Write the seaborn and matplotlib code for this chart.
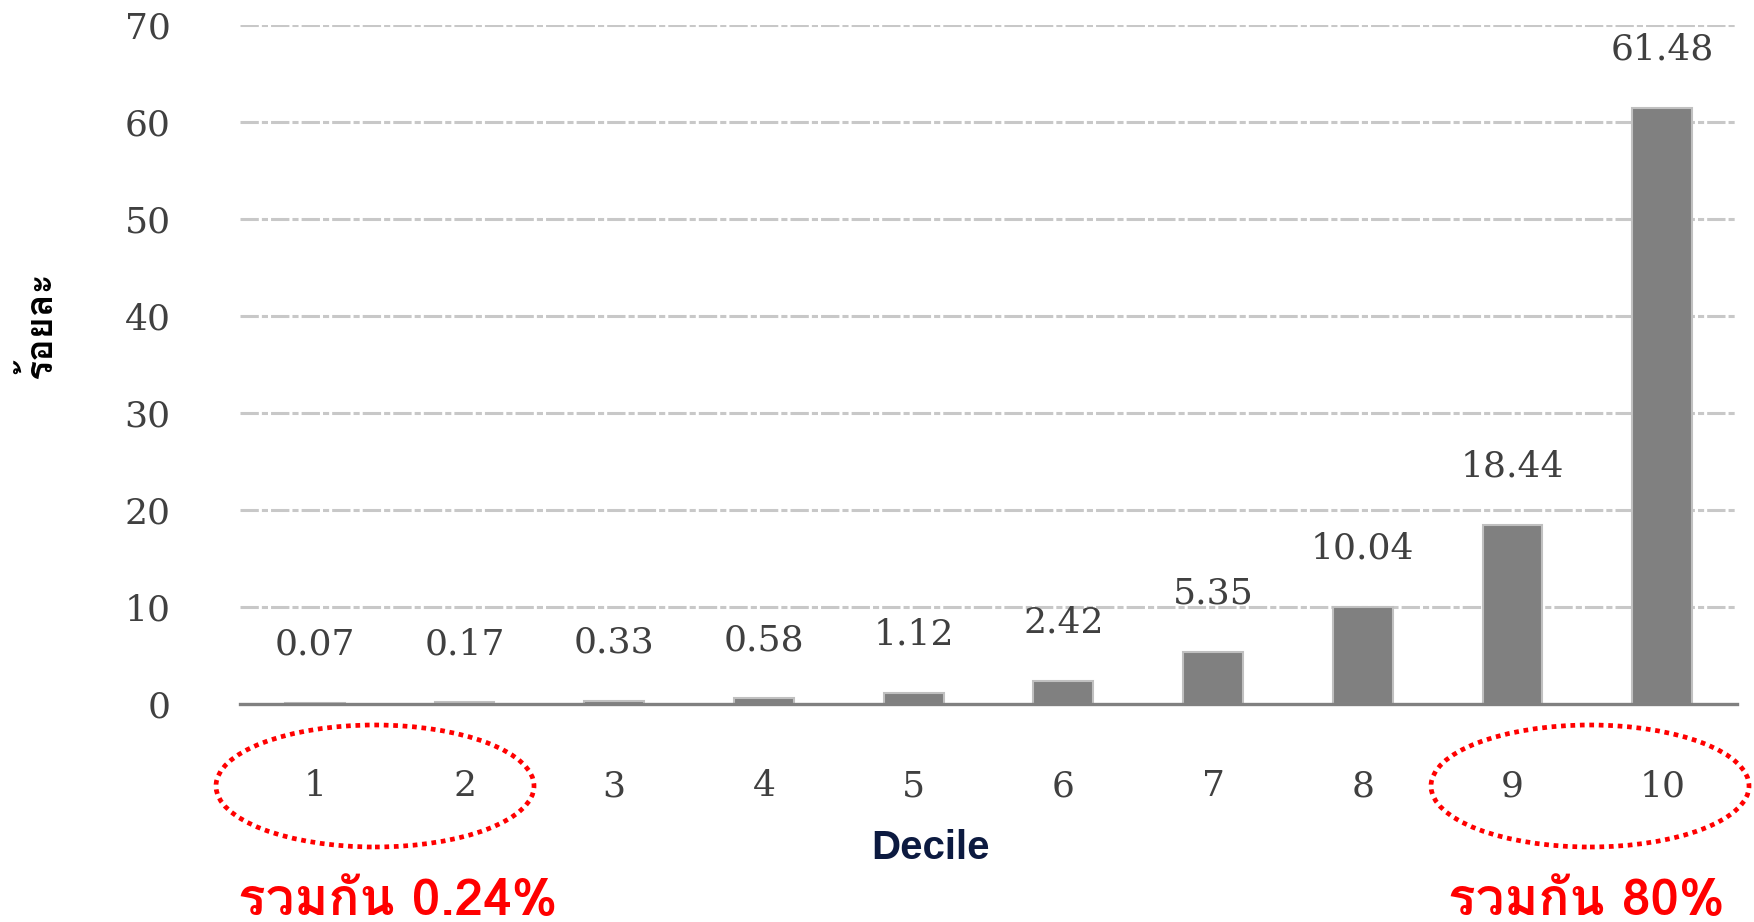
import numpy as np
import matplotlib
matplotlib.use('Agg')
import matplotlib.pyplot as plt
import seaborn as sns
from matplotlib.patches import Ellipse

# data
deciles = ['1', '2', '3', '4', '5', '6', '7', '8', '9', '10']
shares = [0.07, 0.17, 0.33, 0.58, 1.12, 2.42, 5.35, 10.04, 18.44, 61.48]
value_labels = ['0.07', '0.17', '0.33', '0.58', '1.12', '2.42', '5.35', '10.04', '18.44', '61.48']
y_ticks = [0, 10, 20, 30, 40, 50, 60, 70]
y_label = 'ร้อยละ'
x_label = 'Decile'
note_low = 'รวมกัน 0.24%'
note_high = 'รวมกัน 80%'

thai_family = ['Loma', 'DejaVu Sans']
num_family = ['DejaVu Serif', 'Liberation Serif']

sns.set_style('white')
plt.rcParams['font.family'] = num_family

W, H = 1754, 922
fig = plt.figure(figsize=(W / 100, H / 100), dpi=100)
# axes placed in pixel terms of the reference
ax = fig.add_axes([240 / W, 1 - 704 / H, (1737 - 240) / W, (704 - 25) / H])

sns.barplot(x=deciles, y=shares, color='#808080', saturation=1, width=0.4,
            edgecolor='#c0c0c0', linewidth=1.5, ax=ax, zorder=3)

# last category is cut off at the right edge, like the source image
ax.set_xlim(-0.5, 9.35)
ax.set_ylim(0, 70)
ax.set_yticks(y_ticks)
ax.set_yticklabels([str(t) for t in y_ticks])
ax.yaxis.grid(True, color='#c8c8c8', linestyle=(0, (6, 1, 2, 1)), linewidth=2.2, zorder=0)
ax.yaxis.get_gridlines()[0].set_visible(False)
ax.xaxis.grid(False)

for s in ['top', 'right', 'left']:
    ax.spines[s].set_visible(False)
ax.spines['bottom'].set_color('#808080')
ax.spines['bottom'].set_linewidth(2.4)
ax.spines['bottom'].set_zorder(4)

ax.set_xticks(np.arange(-0.5, 10, 1.0), minor=True)
ax.tick_params(axis='x', which='minor', length=13, width=2.2, color='#c0c0c0', direction='out')
ax.tick_params(axis='x', which='major', length=0, pad=47, labelsize=26, labelcolor='#404040')
ax.tick_params(axis='y', length=0, pad=50, labelsize=26, labelcolor='#404040')
ax.set_xlabel('')
ax.set_ylabel('')

for i, (v, lab) in enumerate(zip(shares, value_labels)):
    ax.annotate(lab, (i, v), xytext=(0, 42), textcoords='offset points',
                ha='center', va='center', fontsize=26, color='#404040')

fig.text(930 / W, 1 - 848 / H, x_label, ha='center', va='center', fontsize=29,
         fontweight='bold', color='#0c1a40', family=['Liberation Sans', 'DejaVu Sans'])
fig.text(39 / W, 1 - 325 / H, y_label, ha='center', va='center', rotation=90,
         fontsize=27, fontweight='bold', color='black', family=thai_family)

fig.text(238 / W, 1 - 915 / H, note_low, ha='left', va='baseline', fontsize=37,
         fontweight='bold', color='#ff0000', family=thai_family)
fig.text(1725 / W, 1 - 915 / H, note_high, ha='right', va='baseline', fontsize=37,
         fontweight='bold', color='#ff0000', family=thai_family)

# dotted red rings round deciles 1-2 and 9-10
for cx in [375, 1590]:
    fig.add_artist(Ellipse((cx / W, 1 - 786 / H), 318 / W, 122 / H, transform=fig.transFigure,
                           fill=False, edgecolor='#ff0000', linewidth=3.4,
                           linestyle=(0, (1, 1)), clip_on=False))

fig.savefig('out.png', dpi=100)
